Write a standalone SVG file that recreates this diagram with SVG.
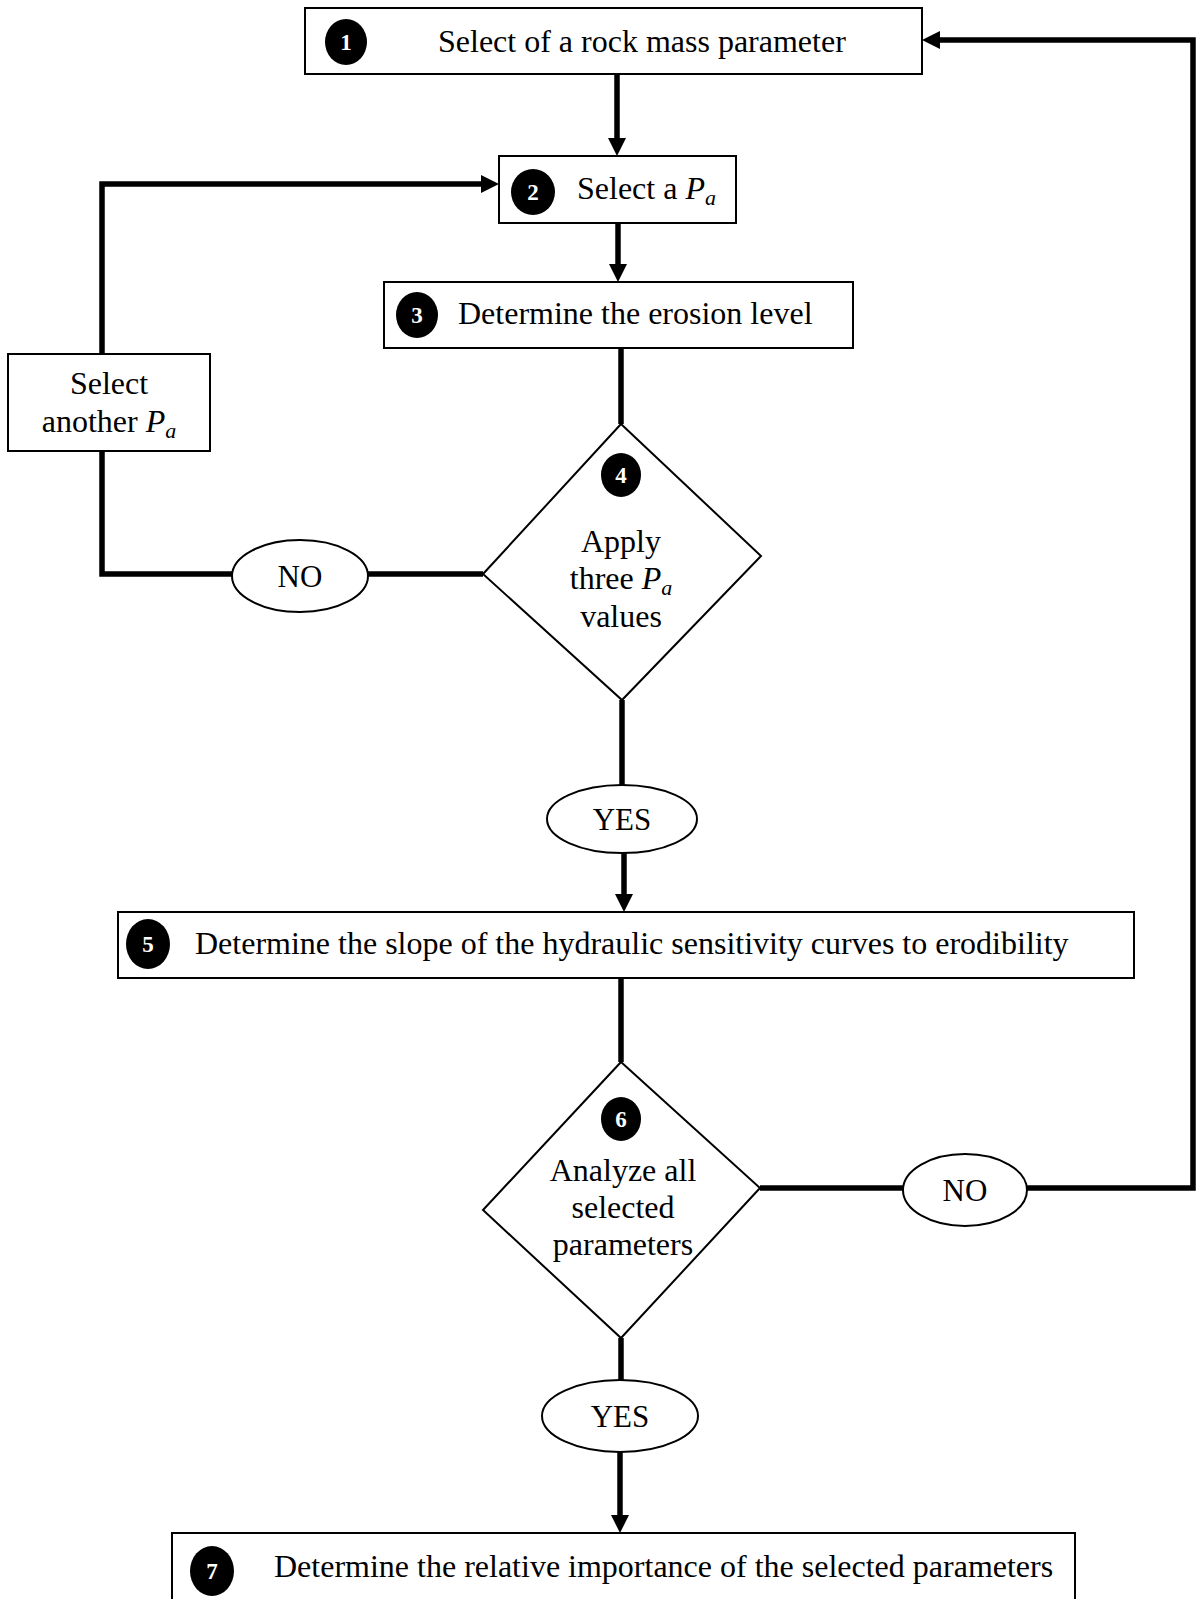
<svg xmlns="http://www.w3.org/2000/svg" width="1197" height="1599" viewBox="0 0 1197 1599">
  <style>
    .box { fill: #fff; stroke: #000; stroke-width: 2; }
    .dec { fill: #fff; stroke: #000; stroke-width: 2; }
    .lbl { font-family: "Liberation Serif", "Times New Roman", serif; font-size: 32px; fill: #000; }
    .mid { text-anchor: middle; }
    .num { font-family: "Liberation Serif", "Times New Roman", serif; font-size: 23px; font-weight: bold; fill: #fff; text-anchor: middle; }
    .badge { fill: #000; }
    .it { font-style: italic; }
    .sub { font-style: italic; font-size: 22px; }
    .yn { font-family: "Liberation Serif", "Times New Roman", serif; font-size: 31px; fill: #000; text-anchor: middle; }
    .link { fill: none; stroke: #000; stroke-width: 5.5; stroke-linejoin: miter; stroke-linecap: butt; }
  </style>
  <defs>
    <marker id="arrow" viewBox="0 0 18 18" refX="8" refY="9" markerWidth="18" markerHeight="18" markerUnits="userSpaceOnUse" orient="auto">
      <path d="M0,0 L18,9 L0,18 z" fill="#000"/>
    </marker>
  </defs>
  <rect width="1197" height="1599" fill="#fff"/>

  <g id="connectors">
    <line class="link" x1="617" y1="74" x2="617" y2="146" marker-end="url(#arrow)"/>
    <line class="link" x1="618" y1="223" x2="618" y2="272" marker-end="url(#arrow)"/>
    <line class="link" x1="621" y1="348" x2="621" y2="424"/>
    <line class="link" x1="483" y1="574" x2="368" y2="574"/>
    <polyline class="link" points="232,574 102,574 102,451"/>
    <polyline class="link" points="102,354 102,184 489,184" marker-end="url(#arrow)"/>
    <line class="link" x1="622" y1="700" x2="622" y2="785"/>
    <line class="link" x1="624" y1="852" x2="624" y2="902" marker-end="url(#arrow)"/>
    <line class="link" x1="621" y1="978" x2="621" y2="1062"/>
    <line class="link" x1="760" y1="1188" x2="903" y2="1188"/>
    <polyline class="link" points="1027,1188 1193,1188 1193,40 932,40" marker-end="url(#arrow)"/>
    <line class="link" x1="621" y1="1338" x2="621" y2="1380"/>
    <line class="link" x1="620" y1="1452" x2="620" y2="1523" marker-end="url(#arrow)"/>
  </g>

  <g id="step1">
    <rect class="box" x="305" y="8" width="617" height="66"/>
    <ellipse class="badge" cx="346" cy="42" rx="21" ry="23"/>
    <text class="num" x="346" y="50">1</text>
    <text class="lbl" x="438" y="52">Select of a rock mass parameter</text>
  </g>

  <g id="step2">
    <rect class="box" x="499" y="156" width="237" height="67"/>
    <ellipse class="badge" cx="533" cy="192" rx="22" ry="23"/>
    <text class="num" x="533" y="200">2</text>
    <text class="lbl" x="577" y="199">Select a <tspan class="it">P</tspan><tspan class="sub" dy="6">a</tspan></text>
  </g>

  <g id="step3">
    <rect class="box" x="384" y="282" width="469" height="66"/>
    <ellipse class="badge" cx="417" cy="315" rx="21" ry="23"/>
    <text class="num" x="417" y="323">3</text>
    <text class="lbl" x="458" y="324">Determine the erosion level</text>
  </g>

  <g id="select-another">
    <rect class="box" x="8" y="354" width="202" height="97"/>
    <text class="lbl mid" x="109" y="394">Select</text>
    <text class="lbl mid" x="109" y="432">another <tspan class="it">P</tspan><tspan class="sub" dy="6">a</tspan></text>
  </g>

  <g id="step4">
    <polygon class="dec" points="621,424 761,556 622,700 483,574"/>
    <ellipse class="badge" cx="621" cy="475" rx="20" ry="22"/>
    <text class="num" x="621" y="483">4</text>
    <text class="lbl mid" x="621" y="552">Apply</text>
    <text class="lbl mid" x="621" y="589">three <tspan class="it">P</tspan><tspan class="sub" dy="6">a</tspan></text>
    <text class="lbl mid" x="621" y="627">values</text>
  </g>

  <g id="no1">
    <ellipse class="dec" cx="300" cy="576" rx="68" ry="36"/>
    <text class="yn" x="300" y="587">NO</text>
  </g>

  <g id="yes1">
    <ellipse class="dec" cx="622" cy="819" rx="75" ry="34"/>
    <text class="yn" x="622" y="830">YES</text>
  </g>

  <g id="step5">
    <rect class="box" x="118" y="912" width="1016" height="66"/>
    <ellipse class="badge" cx="148" cy="944" rx="22" ry="25"/>
    <text class="num" x="148" y="952">5</text>
    <text class="lbl" x="195" y="954">Determine the slope of the hydraulic sensitivity curves to erodibility</text>
  </g>

  <g id="step6">
    <polygon class="dec" points="621,1062 760,1188 621,1338 483,1210"/>
    <ellipse class="badge" cx="621" cy="1119" rx="20" ry="22"/>
    <text class="num" x="621" y="1127">6</text>
    <text class="lbl mid" x="623" y="1181">Analyze all</text>
    <text class="lbl mid" x="623" y="1218">selected</text>
    <text class="lbl mid" x="623" y="1255">parameters</text>
  </g>

  <g id="no2">
    <ellipse class="dec" cx="965" cy="1190" rx="62" ry="36"/>
    <text class="yn" x="965" y="1201">NO</text>
  </g>

  <g id="yes2">
    <ellipse class="dec" cx="620" cy="1416" rx="78" ry="36"/>
    <text class="yn" x="620" y="1427">YES</text>
  </g>

  <g id="step7">
    <rect class="box" x="172" y="1533" width="903" height="80"/>
    <ellipse class="badge" cx="212" cy="1571" rx="22" ry="25"/>
    <text class="num" x="212" y="1579">7</text>
    <text class="lbl" x="274" y="1577">Determine the relative importance of the selected parameters</text>
  </g>
</svg>
